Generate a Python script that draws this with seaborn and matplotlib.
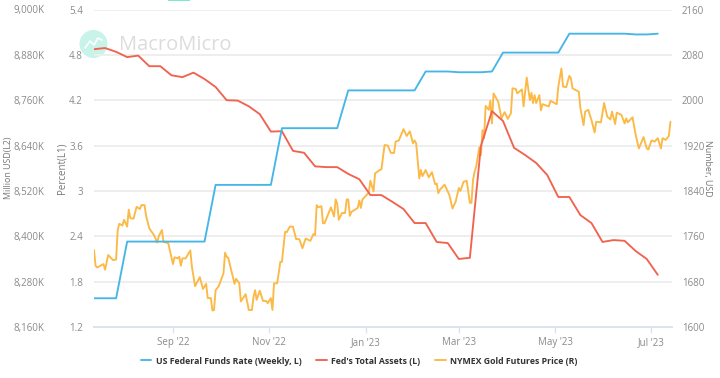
#!/usr/bin/env python
import numpy as np
import matplotlib
matplotlib.use("Agg")
import matplotlib.pyplot as plt
from matplotlib.patches import Ellipse, Rectangle
from matplotlib.lines import Line2D
import pandas as pd
import seaborn as sns

start_date = pd.Timestamp("2022-07-13")

series_names = ["US Federal Funds Rate (Weekly, L)", "Fed's Total Assets (L)", "NYMEX Gold Futures Price (R)"]

# weekly, percent
fed_rate = [1.58, 1.58, 1.58, 2.33, 2.33, 2.33, 2.33, 2.33, 2.33, 2.33, 2.33,
            3.08, 3.08, 3.08, 3.08, 3.08, 3.08, 3.83, 3.83, 3.83, 3.83, 3.83, 3.83,
            4.33, 4.33, 4.33, 4.33, 4.33, 4.33, 4.33, 4.58, 4.58, 4.58, 4.57, 4.57, 4.57, 4.58,
            4.83, 4.83, 4.83, 4.83, 4.83, 4.83, 5.08, 5.08, 5.08, 5.08, 5.08, 5.08, 5.07, 5.07, 5.08]

# weekly, thousand million USD
fed_assets = [8895, 8898, 8888, 8874, 8878, 8850, 8850, 8826, 8821, 8833, 8816, 8795, 8760,
              8759, 8744, 8723, 8677, 8678, 8626, 8621, 8585, 8583, 8583, 8565, 8551, 8509,
              8509, 8491, 8472, 8435, 8435, 8385, 8382, 8340, 8343, 8639, 8731, 8705, 8634,
              8615, 8594, 8562, 8504, 8504, 8456, 8435, 8385, 8390, 8388, 8361, 8340, 8298]

# days after start_date
gold_days = [0, 1, 2, 6, 7, 9, 12, 14, 15, 16, 18, 19, 21, 22, 23, 25, 27, 29, 30, 32, 33, 35, 38, 40,
             41, 43, 44, 47, 50, 51, 53, 54, 55, 56, 58, 61, 62, 64, 67, 69, 71, 72, 74, 75, 76, 77,
             79, 82, 83, 84, 85, 89, 90, 92, 93, 96, 98, 100, 101, 102, 103, 105, 107, 109, 110, 112,
             113, 114, 116, 118, 119, 121, 122, 124, 126, 128, 130, 132, 134, 137, 139, 140, 141, 142,
             144, 145, 146, 150, 152, 153, 154, 155, 157, 159, 160, 161, 162, 163, 167, 168, 169, 170,
             174, 175, 177, 178, 181, 182, 184, 186, 188, 190, 191, 193, 196, 198, 200, 202, 203, 204,
             206, 207, 208, 210, 212, 214, 216, 217, 218, 219, 222, 225, 227, 229, 231, 232, 234, 236,
             238, 239, 240, 241, 242, 244, 245, 246, 247, 248, 250, 251, 252, 253, 256, 258, 260, 262,
             264, 265, 267, 268, 271, 272, 274, 276, 277, 278, 279, 280, 282, 283, 284, 288, 289, 293,
             294, 296, 297, 299, 301, 302, 303, 307, 308, 310, 311, 313, 315, 317, 318, 321, 323, 325,
             327, 328, 330, 331, 334, 336, 337, 338, 341, 343, 345, 348, 350, 351, 353, 355, 357, 359,
             360, 362, 364, 365]

gold_price = [1736, 1708, 1705, 1711, 1701, 1727, 1718, 1719, 1771, 1782, 1779, 1789, 1777, 1807, 1792, 1791, 1812, 1808, 1815, 1815, 1796, 1774, 1762, 1749,
              1760, 1771, 1750, 1748, 1711, 1723, 1721, 1724, 1708, 1721, 1721, 1735, 1706, 1672, 1688, 1667, 1676, 1651, 1651, 1629, 1630, 1665,
              1672, 1695, 1731, 1724, 1722, 1676, 1685, 1677, 1645, 1658, 1630, 1630, 1653, 1665, 1648, 1664, 1646, 1646, 1642, 1651,
              1630, 1677, 1677, 1715, 1715, 1768, 1767, 1777, 1777, 1755, 1755, 1739, 1756, 1752, 1764, 1762, 1815, 1811,
              1813, 1783, 1783, 1811, 1795, 1825, 1818, 1789, 1801, 1801, 1825, 1825, 1796, 1803, 1810, 1823, 1810, 1825,
              1837, 1858, 1839, 1871, 1877, 1878, 1921, 1920, 1907, 1907, 1927, 1929, 1949, 1937, 1945, 1924, 1929, 1924,
              1862, 1877, 1866, 1877, 1864, 1873, 1852, 1853, 1836, 1842, 1851, 1833, 1809, 1821, 1845, 1840, 1856, 1858,
              1819, 1819, 1859, 1874, 1883, 1917, 1903, 1947, 1933, 1990, 1983, 1999, 1959, 2012, 1997, 1968, 1979, 1967,
              1977, 2021, 2020, 2012, 2019, 1989, 2040, 2000, 2013, 1995, 2009, 1995, 2009, 1982, 1993, 1989, 1999, 1993,
              2024, 2056, 2024, 2023, 2043, 2039, 2021, 2015, 1986, 1956, 1980, 1983, 1965, 1943, 1962, 1961, 1995, 1971,
              1966, 1980, 1958, 1978, 1974, 1959, 1968, 1961, 1970, 1939, 1915, 1935, 1915, 1913, 1929, 1927, 1933, 1915,
              1933, 1930, 1937, 1962]

l1_ticks = [1.2, 1.8, 2.4, 3, 3.6, 4.2, 4.8, 5.4]
l1_labels = ["1.2", "1.8", "2.4", "3", "3.6", "4.2", "4.8", "5.4"]
l2_ticks = [8160, 8280, 8400, 8520, 8640, 8760, 8880, 9000]
l2_labels = ["8,160K", "8,280K", "8,400K", "8,520K", "8,640K", "8,760K", "8,880K", "9,000K"]
r_ticks = [1600, 1680, 1760, 1840, 1920, 2000, 2080, 2160]
x_ticks = ["2022-09-01", "2022-11-01", "2023-01-01", "2023-03-01", "2023-05-01", "2023-07-01"]
x_labels = ["Sep '22", "Nov '22", "Jan '23", "Mar '23", "May '23", "Jul '23"]

blue = "#46b6e6"
red = "#f0634f"
gold = "#fbb946"
grey = "#8a8a8a"

sns.set_theme(style="white")
plt.rcParams['font.family'] = ['Open Sans', 'DejaVu Sans']

W, H = 720, 378
fig = plt.figure(figsize=(W/100, H/100), dpi=100, facecolor="white")
box = [94/W, 1-327/H, 578/W, 317.5/H]

ax_r = fig.add_axes(box)
ax_l2 = ax_r.twinx()
ax_l1 = ax_r.twinx()
ax_r.set_zorder(1)
ax_l2.set_zorder(2)
ax_l1.set_zorder(3)
ax_r.patch.set_visible(False)
ax_l2.patch.set_visible(False)
ax_l1.patch.set_visible(False)

weekly = pd.DataFrame({
    "date": start_date + pd.to_timedelta(np.arange(len(fed_rate))*7, unit="D"),
    "rate": fed_rate,
    "assets": fed_assets,
})
daily = pd.DataFrame({
    "date": start_date + pd.to_timedelta(gold_days, unit="D"),
    "price": gold_price,
})

sns.lineplot(data=daily, x="date", y="price", ax=ax_r, color=gold, lw=1.35, estimator=None, legend=False)
sns.lineplot(data=weekly, x="date", y="assets", ax=ax_l2, color=red, lw=1.35, estimator=None, legend=False)
sns.lineplot(data=weekly, x="date", y="rate", ax=ax_l1, color=blue, lw=1.35, estimator=None, legend=False)

xlim = (start_date, start_date + pd.Timedelta(days=366))
for a in (ax_r, ax_l1, ax_l2):
    a.set_xlim(xlim)
    a.set_xlabel("")
    a.set_ylabel("")
    for s in a.spines.values():
        s.set_visible(False)

ax_r.set_ylim(1600, 2160)
ax_r.set_yticks(r_ticks)
ax_r.yaxis.tick_right()
ax_r.tick_params(axis="y", length=0, pad=7, labelsize=7, labelcolor=grey)
ax_r.grid(axis="y", color="#eeeeee", lw=1.4)
ax_r.set_axisbelow(True)

ax_l2.set_ylim(8160, 9000)
ax_l2.set_yticks(l2_ticks, l2_labels)
ax_l2.yaxis.tick_left()
ax_l2.tick_params(axis="y", length=0, pad=36, labelsize=7, labelcolor=grey)

ax_l1.set_ylim(1.2, 5.4)
ax_l1.set_yticks(l1_ticks, l1_labels)
ax_l1.yaxis.tick_left()
ax_l1.tick_params(axis="y", length=0, pad=8, labelsize=7, labelcolor=grey)

ax_r.set_xticks(pd.to_datetime(x_ticks), x_labels)
ax_r.tick_params(axis="x", length=4, width=1, color="#dde3ee", pad=3, labelsize=7, labelcolor=grey, bottom=True)
ax_r.spines["bottom"].set_visible(True)
ax_r.spines["bottom"].set_color("#dde3ee")
ax_r.spines["bottom"].set_linewidth(1.4)
for a in (ax_l1, ax_l2):
    a.tick_params(axis="x", bottom=False, labelbottom=False)

# axis titles
fig.text(9/W, 1-168/H, "Million USD(L2)", rotation=90, ha="center", va="center", fontsize=6.4, color="#777777")
fig.text(62/W, 1-168/H, "Percent(L1)", rotation=90, ha="center", va="center", fontsize=7, color="#777777")
fig.text(708/W, 1-168/H, "Number, USD", rotation=270, ha="center", va="center", fontsize=6.4, color="#777777")

# watermark
fig.add_artist(Ellipse((93.5/W, 1-44/H), 28/W, 28/H, transform=fig.transFigure, fc="#c8f3e9", ec="none", zorder=0.5))
fig.add_artist(Line2D(np.array([85, 90, 94, 98, 102])/W, 1-np.array([48, 41, 45, 38, 40])/H, color="white", lw=1.2, zorder=0.6))
fig.text(119/W, 1-45/H, "MacroMicro", fontsize=14.5, color="#dcdcdc", ha="left", va="center", zorder=0.6)
fig.add_artist(Rectangle((168/W, 1-1.2/H), 22/W, 1.2/H, transform=fig.transFigure, fc="#7de8d2", ec="none"))

# legend
handles = [ax_l1.get_lines()[0], ax_l2.get_lines()[0], ax_r.get_lines()[0]]
leg = fig.legend(handles, series_names, loc="center", bbox_to_anchor=(359/W, 1-361/H), ncol=3, frameon=False,
                 fontsize=6.3, handlelength=1.2, handletextpad=0.5, columnspacing=1.7)
for t in leg.get_texts():
    t.set_color("#333333")
    t.set_fontweight("bold")

fig.savefig("out.png", dpi=100)
